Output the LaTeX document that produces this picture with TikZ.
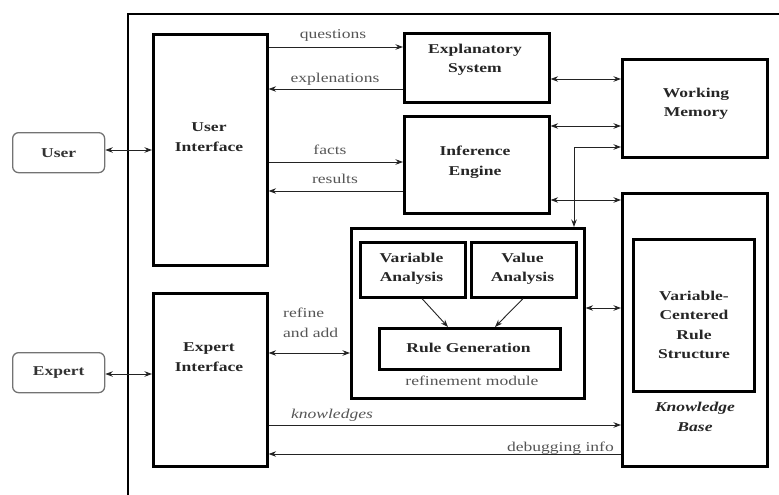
\documentclass[tikz,border=0pt]{standalone}
\usepackage{fontspec}
\setmainfont{Liberation Serif}[FakeStretch=1.3]
\usetikzlibrary{arrows.meta}
\definecolor{lblc}{RGB}{85,85,85}
\definecolor{lnc}{RGB}{35,35,35}
\begin{document}
\begin{tikzpicture}[x=1pt,y=-1pt,
  box/.style={draw=black,line width=2.6pt,anchor=north west,inner sep=0pt},
  term/.style={draw=black!55,line width=1.3pt,rounded corners=6pt,anchor=north west,
    minimum width=92pt,minimum height=40pt,inner sep=0pt,
    font=\bfseries\fontsize{13.5}{15}\selectfont,text=black!80},
  txt/.style={align=center,inner sep=0pt,font=\bfseries\fontsize{13.5}{19.5}\selectfont,text=black!85},
  lbl/.style={inner sep=0pt,font=\fontsize{13.5}{20}\selectfont,text=lblc},
  con/.style={draw=lnc,line width=0.9pt},
  one/.style={con,-{Stealth[length=7.5pt,width=5.5pt]}},
  two/.style={con,{Stealth[length=7.5pt,width=5.5pt]}-{Stealth[length=7.5pt,width=5.5pt]}}]
\useasboundingbox (0,0) rectangle (779,495);
\begin{scope}
\clip (0,0) rectangle (779,495);
\draw[line width=2.6pt] (128,500) -- (128,14) -- (790,14);
\end{scope}

% boxes
\node[box,minimum width=114pt,minimum height=231pt] (ui) at (152,33) {};
\node[box,minimum width=114pt,minimum height=173pt] (ei) at (152,292) {};
\node[box,minimum width=145pt,minimum height=69pt] (es) at (403,32) {};
\node[box,minimum width=145pt,minimum height=97pt] (ie) at (403,115) {};
\node[box,minimum width=145pt,minimum height=98pt] (wm) at (621,58) {};
\node[box,minimum width=145pt,minimum height=273pt] (kb) at (621,192) {};
\node[box,minimum width=121pt,minimum height=152pt] (vc) at (632,238) {};
\node[box,minimum width=233pt,minimum height=170pt] (rm) at (350,227) {};
\node[box,minimum width=105pt,minimum height=55pt] (va) at (359,241) {};
\node[box,minimum width=105pt,minimum height=55pt] (vl) at (470,241) {};
\node[box,minimum width=181pt,minimum height=41pt] (rg) at (378,327) {};
\node[term] (user) at (12,132) {User};
\node[term] (expert) at (12,352) {Expert};

% box texts
\node[txt] (uit) at (209,137) {User\\Interface};
\node[txt] (eit) at (209,357) {Expert\\Interface};
\node[txt] (est) at (475,60) {Explanatory\\System};
\node[txt] (iet) at (475,162) {Inference\\Engine};
\node[txt] (wmt) at (696,104) {Working\\Memory};
\node[txt] (vat) at (411.5,269) {Variable\\Analysis};
\node[txt] (vlt) at (522.5,269) {Value\\Analysis};
\node[txt] (rgt) at (468.5,347.5) {Rule Generation};
\node[txt] (vct) at (694,325) {Variable-\\Centered\\Rule\\Structure};
\node[txt,font=\bfseries\itshape\fontsize{13.5}{19.5}\selectfont] (kbt) at (695,417) {Knowledge\\Base};
\node[lbl] (rmt) at (472,381) {refinement module};

% connectors
\draw[two] (user.east |- 0,150) -- (ui.west |- 0,150);
\draw[two] (expert.east |- 0,374) -- (ei.west |- 0,374);
\draw[one] (ui.east |- 0,47) -- (es.west |- 0,47);
\draw[one] (es.west |- 0,89) -- (ui.east |- 0,89);
\draw[one] (ui.east |- 0,162) -- (ie.west |- 0,162);
\draw[one] (ie.west |- 0,191) -- (ui.east |- 0,191);
\draw[two] (es.east |- 0,79) -- (wm.west |- 0,79);
\draw[two] (ie.east |- 0,126) -- (wm.west |- 0,126);
\draw[two] (wm.west |- 0,147) -| (rm.north -| 574,0);
\draw[two] (ie.east |- 0,200) -- (kb.west |- 0,200);
\draw[two] (rm.east |- 0,308) -- (kb.west |- 0,308);
\draw[two] (ei.east |- 0,353) -- (rm.west |- 0,353);
\draw[one] (ei.east |- 0,425) -- (kb.west |- 0,425);
\draw[one] (kb.west |- 0,454) -- (ei.east |- 0,454);
\draw[one] (va.south -| 422,0) -- (rg.north -| 448,0);
\draw[one] (vl.south -| 523,0) -- (rg.north -| 495,0);

% connector labels
\node[lbl] (lq) at (333,35) {questions};
\node[lbl] (lex) at (335,79) {explenations};
\node[lbl] (lf) at (330,150) {facts};
\node[lbl] (lr) at (335,179) {results};
\node[lbl,align=left,anchor=west] (lra) at (283,323) {refine\\and add};
\node[lbl,font=\itshape\fontsize{13.5}{20}\selectfont] (lk) at (332,415) {knowledges};
\node[lbl,anchor=base east] (ld) at (614,451) {debugging info};
\end{tikzpicture}
\end{document}
